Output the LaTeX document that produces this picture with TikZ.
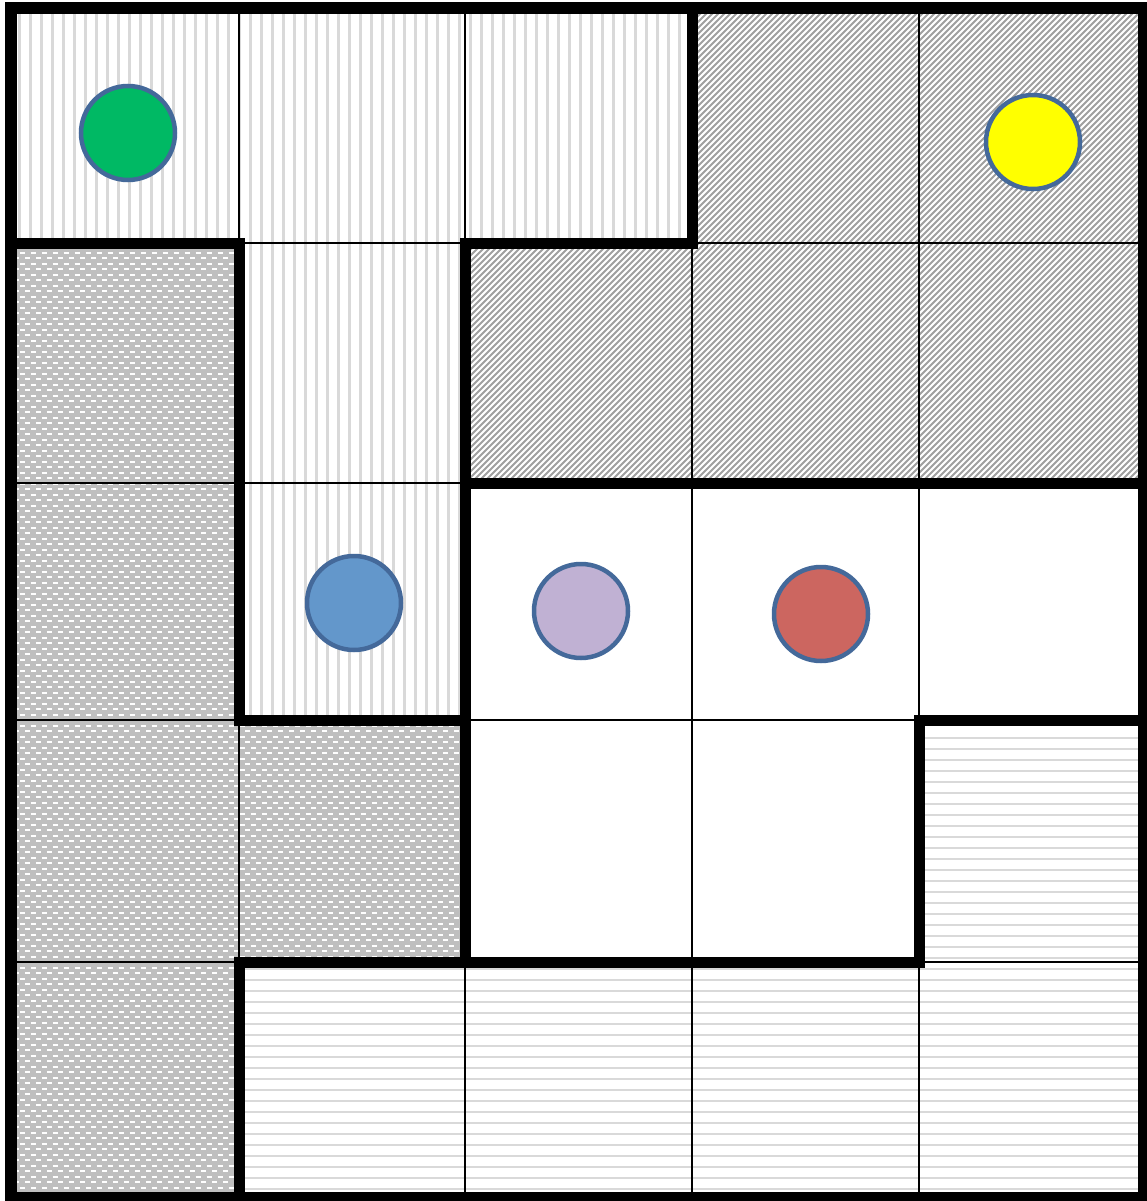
\documentclass[tikz,border=0pt]{standalone}
\definecolor{vstripe}{HTML}{D9D9D9}
\definecolor{hstripe}{HTML}{D9D9D9}
\definecolor{hatch}{HTML}{A0A0A0}
\definecolor{dotbg}{HTML}{BFBFBF}
\definecolor{ring}{HTML}{44699A}
\definecolor{cgreen}{HTML}{00B964}
\definecolor{cyellow}{HTML}{FFFF00}
\definecolor{cblue}{HTML}{6397CB}
\definecolor{clav}{HTML}{C0B1D3}
\definecolor{cred}{HTML}{CC6660}
\tikzset{
  thinline/.style={line width=1.5pt, black},
  thickline/.style={line width=11pt, black, line cap=rect},
  token/.style={circle, draw=ring, line width=4.5pt, minimum size=94pt, inner sep=0pt},
}
\begin{document}
\begin{tikzpicture}[x=1pt,y=-1pt]
\useasboundingbox (0,0) rectangle (1147,1201);
\fill[white] (0,0) rectangle (1147,1201);
% vertical stripes region
\begin{scope}
\clip (11,8) -- (692,8) -- (692,243) -- (465,243) -- (465,720) -- (239,720) -- (239,243) -- (11,243) -- cycle;
\foreach \k in {0,...,62} {
  \draw[vstripe, line width=3pt] ({19+11*\k},8) -- ({19+11*\k},720);
}
\end{scope}
% diagonal hatch region
\begin{scope}
\clip (692,8) -- (1141,8) -- (1141,483) -- (465,483) -- (465,243) -- (692,243) -- cycle;
\foreach \k in {0,...,200} {
  \draw[hatch, line width=2pt] ({-20+6*\k},488) -- ({-20+6*\k+485},3);
}
\end{scope}
% dotted region
\begin{scope}
\clip (11,243) -- (239,243) -- (239,720) -- (465,720) -- (465,962) -- (239,962) -- (239,1197) -- (11,1197) -- cycle;
\fill[dotbg] (11,243) rectangle (465,1197);
\foreach \k in {0,...,174} {
  \pgfmathsetmacro{\ph}{mod(\k,2)*5.5}
  \draw[white, line width=2pt, dash pattern=on 5pt off 6pt, dash phase=\ph pt] (14,{247+5.5*\k}) -- (465,{247+5.5*\k});
}
\end{scope}
% horizontal stripes region
\begin{scope}
\clip (919,720) -- (1141,720) -- (1141,1197) -- (239,1197) -- (239,962) -- (919,962) -- cycle;
\foreach \k in {0,...,43} {
  \draw[hstripe, line width=2.5pt] (239,{738+11*\k}) -- (1141,{738+11*\k});
}
\end{scope}
% thin grid lines
\foreach \x in {239,465,692,919} {
  \draw[thinline] (\x,8) -- (\x,1197);
}
\foreach \y in {243,483,720,962} {
  \draw[thinline] (11,\y) -- (1141,\y);
}
% thick region borders
\draw[thickline] (692,8) -- (692,243) -- (465,243) -- (465,962);
\draw[thickline] (11,243) -- (239,243) -- (239,720) -- (465,720);
\draw[thickline] (465,483) -- (1141,483);
\draw[thickline] (239,1197) -- (239,962) -- (919,962) -- (919,720) -- (1141,720);
% outer border
\draw[line width=12pt, black] (11,8) rectangle (1144,1198);
% tokens
\node[token, fill=cgreen] (green) at (128,133) {};
\node[token, fill=cyellow] (yellow) at (1033,142) {};
\node[token, fill=cblue] (blue) at (354,603) {};
\node[token, fill=clav] (lavender) at (581,611) {};
\node[token, fill=cred] (red) at (821,614) {};
\end{tikzpicture}
\end{document}
